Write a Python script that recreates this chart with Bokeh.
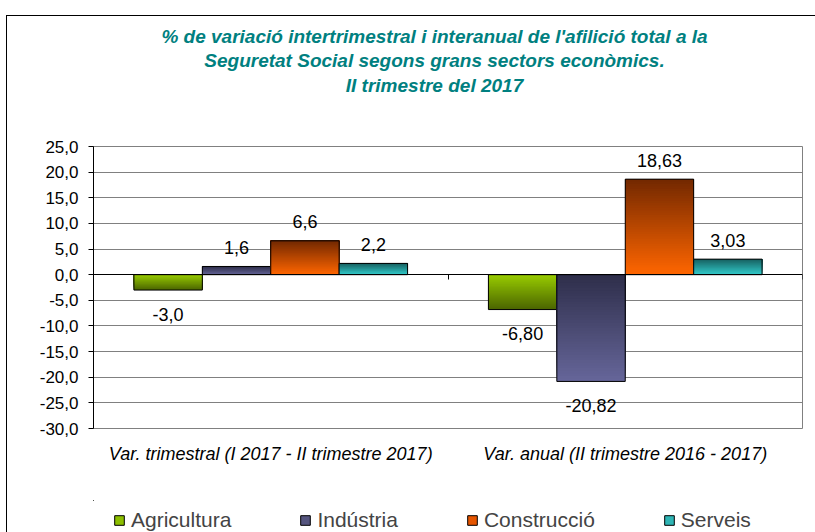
from bokeh.plotting import figure
from bokeh.layouts import column
from bokeh.models import (Range1d, FactorRange, FixedTicker, CustomJSTickFormatter, ColumnDataSource,
                          Legend, LegendItem, LinearAxis)
from bokeh.transform import dodge
from bokeh.core.properties import value
from bokeh.embed import file_html
from bokeh.resources import INLINE

# ---------------- data ----------------
categories = ["Var. trimestral (I 2017 - II trimestre 2017)",
              "Var. anual (II trimestre 2016 - 2017)"]
series_names = ["Agricultura", "Indústria", "Construcció", "Serveis"]
agricultura = [-3.0, -6.80]
industria = [1.6, -20.82]
construccio = [6.6, 18.63]
serveis = [2.2, 3.03]
agricultura_labels = ["-3,0", "-6,80"]
industria_labels = ["1,6", "-20,82"]
construccio_labels = ["6,6", "18,63"]
serveis_labels = ["2,2", "3,03"]
y_ticks = [-30, -25, -20, -15, -10, -5, 0, 5, 10, 15, 20, 25]
title_lines = ["% de variació intertrimestral i interanual de l'afilició total a la",
               "Seguretat Social segons grans sectors econòmics.",
               "II trimestre del 2017"]

# ---------------- styles ----------------
FONT = "Liberation Sans"
grad_top = ["#99cc00", "#2e2e4a", "#722800", "#176060"]
grad_bottom = ["#4a6400", "#66669a", "#ff6600", "#33cccc"]
legend_fill = ["#8cbf00", "#55557f", "#e65500", "#2fb5b5"]
bar_w = 0.193
offsets = [-1.5 * bar_w, -0.5 * bar_w, 0.5 * bar_w, 1.5 * bar_w]
W = 808
FRAME_W = 709  # plot-area width (the column aligns all frames to it)


def lerp(c1, c2, f):
    a = [int(c1[i:i + 2], 16) for i in (1, 3, 5)]
    b = [int(c2[i:i + 2], 16) for i in (1, 3, 5)]
    return "#%02x%02x%02x" % tuple(round(a[k] + (b[k] - a[k]) * f) for k in range(3))


def blank(h):
    f = figure(width=W, height=h, x_range=Range1d(0, FRAME_W), y_range=Range1d(h, 0),
               output_backend="svg", toolbar_location=None,
               x_axis_location=None, y_axis_location=None,
               min_border_left=0, min_border_right=0, min_border_top=0, min_border_bottom=0)
    f.outline_line_color = None
    f.xgrid.grid_line_color = None
    f.ygrid.grid_line_color = None
    f.background_fill_color = "white"
    f.border_fill_color = "white"
    return f


# ---------------- title figure ----------------
tfig = blank(120)
tfig.text(x=[341, 341, 341], y=[20, 44, 69], text=title_lines, text_align="center",
          text_baseline="middle", text_font=value(FONT), text_font_style="bold italic",
          text_font_size="19px", text_color="#008080")

# ---------------- main chart ----------------
p = figure(x_range=FactorRange(factors=categories, range_padding=0),
           y_range=Range1d(-30, 25),
           width=W, height=364, output_backend="svg", toolbar_location=None,
           min_border_left=86, min_border_right=13, min_border_top=10, min_border_bottom=72)
p.background_fill_color = "white"
p.border_fill_color = "white"
p.outline_line_color = "#808080"
p.outline_line_width = 1

p.yaxis.ticker = FixedTicker(ticks=y_ticks)
p.yaxis.formatter = CustomJSTickFormatter(code="return tick.toFixed(1).replace('.', ',');")
p.yaxis.major_label_text_font = FONT
p.yaxis.major_label_text_font_size = "17px"
p.yaxis.major_label_text_color = "black"
p.yaxis.axis_line_color = "black"
p.yaxis.major_tick_line_color = "black"
p.yaxis.major_tick_out = 5
p.yaxis.major_tick_in = 0
p.yaxis.minor_tick_line_color = None
p.yaxis.major_label_standoff = 10

p.xaxis.axis_line_color = None
p.xaxis.major_tick_line_color = None
p.xaxis.minor_tick_line_color = None
p.xaxis.major_label_text_font = FONT
p.xaxis.major_label_text_font_style = "italic"
p.xaxis.major_label_text_font_size = "18px"
p.xaxis.major_label_text_color = "black"
p.xaxis.major_label_standoff = 9

p.xgrid.grid_line_color = None
p.ygrid.ticker = FixedTicker(ticks=y_ticks)
p.ygrid.grid_line_color = "#808080"
p.ygrid.grid_line_width = 1

# zero (category) axis with separator ticks at the category boundaries
zax = LinearAxis(ticker=FixedTicker(ticks=[0, 1, 2]), fixed_location=0,
                 major_tick_in=5, major_tick_out=0, minor_tick_line_color=None,
                 major_label_text_alpha=0,
                 axis_line_color="black", major_tick_line_color="black")
p.add_layout(zax, "above")

series_vals = [agricultura, industria, construccio, serveis]
series_labels = [agricultura_labels, industria_labels, construccio_labels, serveis_labels]
N = 40
for k, (name, vals, labs) in enumerate(zip(series_names, series_vals, series_labels)):
    base = ColumnDataSource(dict(x=categories, top=[max(0, v) for v in vals],
                                 bottom=[min(0, v) for v in vals]))
    xs, tops, bottoms, cols = [], [], [], []
    for cat, v in zip(categories, vals):
        lo, hi = min(0, v), max(0, v)
        for i in range(N):
            xs.append(cat)
            bottoms.append(lo + (hi - lo) * i / N)
            tops.append(hi)
            cols.append(lerp(grad_top[k], grad_bottom[k], 1 - (i + 0.5) / N))
    sl = ColumnDataSource(dict(x=xs, top=tops, bottom=bottoms, color=cols))
    p.vbar(x=dodge("x", offsets[k], range=p.x_range), top="top", bottom="bottom",
           width=bar_w, source=sl, fill_color="color", line_color=None)
    p.vbar(x=dodge("x", offsets[k], range=p.x_range), top="top", bottom="bottom",
           width=bar_w, source=base, fill_color=None, line_color="black", line_width=1)
    lab = ColumnDataSource(dict(x=categories, y=vals, text=labs,
                                yo=[-19 if v > 0 else 24 for v in vals]))
    p.text(x=dodge("x", offsets[k], range=p.x_range), y="y", text="text", y_offset="yo",
           source=lab, text_align="center", text_baseline="middle",
           text_font=value(FONT), text_font_size="18px", text_color="black")

# ---------------- legend strip ----------------
lp = blank(32)
items = []
for k, name in enumerate(series_names):
    # swatch renderers sit outside the visible range; only their legend glyphs show
    r = lp.vbar(x=[-500], top=[-500], bottom=[-501], width=1,
                fill_color=legend_fill[k], line_color="black")
    items.append(LegendItem(label=name, renderers=[r]))
legend = Legend(items=items, orientation="horizontal", location=(20, 0),
                spacing=68, glyph_width=12, glyph_height=12, label_standoff=6,
                padding=0, margin=0, border_line_color=None, background_fill_alpha=0,
                label_text_font=FONT, label_text_font_size="21px")
lp.add_layout(legend, "center")

layout = column(tfig, p, lp, spacing=0, margin=(15, 0, 0, 6),
                styles={"border-left": "1px solid black", "border-top": "1px solid black"})

open("out.html", "w").write(file_html(layout, INLINE))
